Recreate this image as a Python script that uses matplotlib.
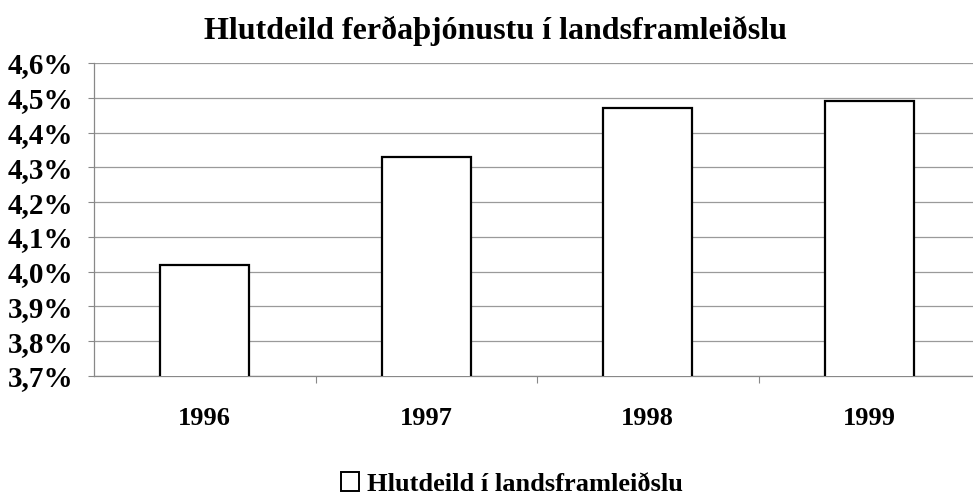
import numpy as np
import matplotlib
matplotlib.use('Agg')
import matplotlib.pyplot as plt
from matplotlib.ticker import FuncFormatter, FixedLocator
from matplotlib.patches import Patch

#----------------------------------------------------data

years = ['1996', '1997', '1998', '1999']
share = [4.02, 4.33, 4.47, 4.49]   # % of GDP
series_name = 'Hlutdeild í landsframleiðslu'
title = 'Hlutdeild ferðaþjónustu í landsframleiðslu'

#----------------------------------------------------plot

plt.rcParams['font.family'] = ['Liberation Serif', 'DejaVu Serif']
plt.rcParams['font.weight'] = 'bold'

fig = plt.figure(figsize=(9.73, 4.96), dpi=100)
ax = fig.add_axes([94/973, 1-376/496, 1-94/973, (376-63)/496])

x = np.arange(len(years))
ax.bar(x, share, width=0.4, bottom=0, color='white', edgecolor='black',
       linewidth=1.6, zorder=3, label=series_name)

ax.set_ylim(3.7, 4.6)
ax.set_xlim(-0.5, (973-94)/221.5 - 0.5)
ax.set_yticks(np.arange(3.7, 4.61, 0.1))
ax.yaxis.set_major_formatter(FuncFormatter(lambda v, p: ('%.1f%%' % v).replace('.', ',')))
ax.yaxis.grid(True, color='#9a9a9a', linewidth=0.9, zorder=0)

# category labels centred, ticks between categories
ax.xaxis.set_major_locator(FixedLocator([0.5, 1.5, 2.5]))
ax.xaxis.set_major_formatter(FuncFormatter(lambda v, p: ''))
ax.xaxis.set_minor_locator(FixedLocator(x))
ax.set_xticklabels(years, minor=True)
ax.tick_params(axis='x', which='minor', length=0, pad=22, labelsize=19)
ax.tick_params(axis='x', which='major', length=5, color='#888888')
ax.tick_params(axis='y', length=4, color='#888888', labelsize=21, pad=11)

for s in ['top', 'right']:
    ax.spines[s].set_visible(False)
for s in ['left', 'bottom']:
    ax.spines[s].set_color('#888888')
    ax.spines[s].set_linewidth(0.9)

fig.text(496/973, 1-31/496, title, ha='center', va='center', fontsize=23, fontweight='bold')

handle = Patch(facecolor='white', edgecolor='black', linewidth=1.4)
fig.legend([handle], [series_name], loc='center', bbox_to_anchor=(512/973, 1-484/496),
           frameon=False, fontsize=19, handlelength=0.7, handleheight=0.7, handletextpad=0.3,
           borderpad=0.05)

fig.savefig('out.png', dpi=100)
